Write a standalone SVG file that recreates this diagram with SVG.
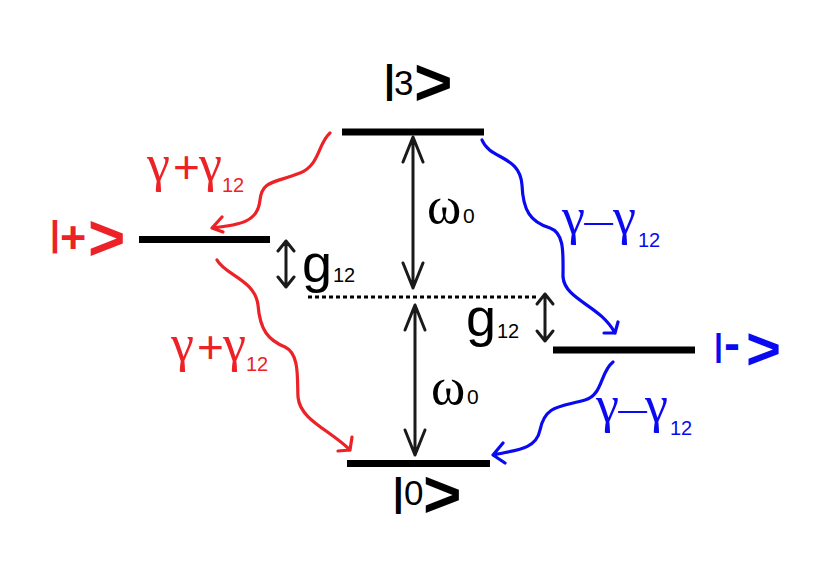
<svg xmlns="http://www.w3.org/2000/svg" width="821" height="587" viewBox="0 0 821 587">
<style>
.lvl{stroke:#000;stroke-width:7;fill:none}
.ar{stroke:#1a1a1a;stroke-width:3;fill:none;stroke-linecap:round;stroke-linejoin:round}
.red{stroke:#EC2227;stroke-width:3.2;fill:none;stroke-linecap:round;stroke-linejoin:round}
.blue{stroke:#0A0AF0;stroke-width:3.2;fill:none;stroke-linecap:round;stroke-linejoin:round}
.sans{font-family:"Liberation Sans",Arial,sans-serif}
.serif{font-family:"Liberation Serif","Times New Roman",serif}
.b{font-weight:bold}
</style>
<rect width="821" height="587" fill="#fff"/>
<g id="level3">
<line class="lvl" x1="342" y1="132" x2="484" y2="132"/>
<text class="sans" fill="#000"><tspan x="384" y="92" font-size="39" font-weight="bold">|</tspan><tspan x="394" y="95" font-size="35">3</tspan><tspan x="414" y="105" font-size="66" font-weight="bold">&gt;</tspan></text>
</g>
<g id="levelPlus">
<line class="lvl" x1="139" y1="239.5" x2="270" y2="239.5"/>
<text class="sans b" fill="#EC2227"><tspan x="50" y="246" font-size="35">|</tspan><tspan x="60" y="253" font-size="45">+</tspan><tspan x="88" y="260" font-size="64">&gt;</tspan></text>
</g>
<g id="levelMinus">
<line class="lvl" x1="553" y1="350" x2="695" y2="350"/>
<text class="sans b" fill="#0A0AF0"><tspan x="714" y="356" font-size="32">|</tspan><tspan x="724" y="360" font-size="48">-</tspan><tspan x="746" y="369" font-size="60">&gt;</tspan></text>
</g>
<g id="level0">
<line class="lvl" x1="347" y1="463.5" x2="490" y2="463.5"/>
<text class="sans" fill="#000"><tspan x="393" y="505" font-size="38" font-weight="bold">|</tspan><tspan x="404" y="505" font-size="35">0</tspan><tspan x="423" y="517" font-size="66" font-weight="bold">&gt;</tspan></text>
</g>
<g id="midline">
<line x1="308" y1="297" x2="537" y2="297" stroke="#000" stroke-width="3" stroke-dasharray="4,3"/>
</g>
<g id="connectors">
<path class="ar" d="M413,137 V288 M403,162 L413,137 L423,162 M403,263 L413,288 L423,263"/>
<path class="ar" d="M415,305 V455 M405,330 L415,305 L425,330 M405,430 L415,455 L425,430"/>
<path class="ar" d="M286,241 V287 M278,251 L286,241 L294,251 M278,277 L286,287 L294,277"/>
<path class="ar" d="M545,294 V341 M537,304 L545,294 L553,304 M537,331 L545,341 L553,331"/>
<path class="red" d="M330,133 C318,143 320,165 300,173 C275,183 262,180 260,200 C258,222 240,225 212,228 M222,217 L212,228 L223,232"/>
<path class="red" d="M217,260 C225,275 255,280 258,305 C260,330 268,340 285,347 C300,354 297,380 298,397 C300,420 330,430 350,450 M352,437 L350,450 L338,451"/>
<path class="blue" d="M482,140 C490,160 520,155 522,185 C523,210 530,222 550,228 C565,233 563,255 563,277 C565,300 600,305 615,333 M618,322 L615,333 L604,333"/>
<path class="blue" d="M613,362 C600,372 603,395 585,400 C560,407 545,405 540,430 C536,450 515,450 493,455 M503,443 L493,455 L505,463"/>
</g>
<g id="labels">
<text fill="#000"><tspan class="serif" x="427" y="223" font-size="52">ω</tspan><tspan class="sans" x="463" y="223" font-size="21">0</tspan></text>
<text fill="#000"><tspan class="serif" x="431" y="404" font-size="52">ω</tspan><tspan class="sans" x="467" y="404" font-size="21">0</tspan></text>
<text class="sans" fill="#000"><tspan x="302" y="282" font-size="54">g</tspan><tspan x="333" y="282" font-size="20">12</tspan></text>
<text class="sans" fill="#000"><tspan x="466" y="336" font-size="54">g</tspan><tspan x="497" y="338" font-size="20">12</tspan></text>
<text fill="#EC2227"><tspan class="serif" x="147" y="181" font-size="52">γ</tspan><tspan class="sans" x="173" y="183" font-size="46">+</tspan><tspan class="serif" x="199" y="181" font-size="52">γ</tspan><tspan class="sans" x="222" y="192" font-size="20">12</tspan></text>
<text fill="#EC2227"><tspan class="serif" x="171" y="361" font-size="52">γ</tspan><tspan class="sans" x="197" y="363" font-size="46">+</tspan><tspan class="serif" x="223" y="361" font-size="52">γ</tspan><tspan class="sans" x="246" y="371" font-size="20">12</tspan></text>
<text fill="#0A0AF0"><tspan class="serif" x="562" y="234" font-size="52">γ</tspan><tspan class="sans" x="584" y="232" font-size="29">—</tspan><tspan class="serif" x="613" y="234" font-size="52">γ</tspan><tspan class="sans" x="638" y="247" font-size="20">12</tspan></text>
<text fill="#0A0AF0"><tspan class="serif" x="596" y="422" font-size="52">γ</tspan><tspan class="sans" x="618" y="420" font-size="29">—</tspan><tspan class="serif" x="645" y="422" font-size="52">γ</tspan><tspan class="sans" x="670" y="435" font-size="20">12</tspan></text>
</g>
</svg>
